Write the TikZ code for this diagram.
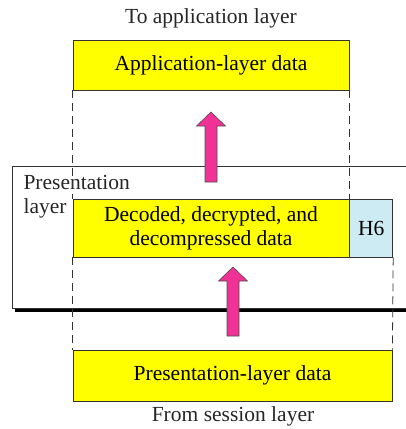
\documentclass[tikz,border=0pt]{standalone}
\usepackage{fontspec}
\setmainfont{Liberation Serif}
\usepackage{tikz}
\usetikzlibrary{positioning}
\definecolor{boxyellow}{RGB}{255,255,0}
\definecolor{headerblue}{RGB}{205,235,243}
\definecolor{arrowpink}{RGB}{240,50,150}
\tikzset{
    databox/.style={draw=black!80, line width=0.8pt, fill=boxyellow, inner sep=0pt,
        font=\fontsize{21.5}{24}\selectfont, align=center},
    headerbox/.style={databox, fill=headerblue},
    guide/.style={black!80, line width=0.8pt, dash pattern=on 8pt off 5pt},
    caption/.style={font=\fontsize{21.5}{24}\selectfont, text=black!85},
    liftarrow/.style={draw=black!70, line width=0.6pt, fill=arrowpink}
}
% block arrow pointing up: x, tip y, bottom y (y grows downwards)
\def\liftarrow#1#2#3{%
    \draw[liftarrow] (#1-6,#3) -- (#1-6,#2+14) -- (#1-14.5,#2+14) -- (#1,#2)
        -- (#1+14.5,#2+14) -- (#1+6,#2+14) -- (#1+6,#3) -- cycle;
}
\begin{document}
\begin{tikzpicture}[x=1pt, y=-1pt]
    \useasboundingbox (0,0) rectangle (406,429);

    % presentation layer frame
    \draw[black!80, line width=0.8pt] (406,166) -- (12,166) -- (12,308) -- (406,308);
    \draw[black, line width=3pt] (15,310) -- (406,310);
    \node[caption, align=left, anchor=base west] (layername) at (20,213)
        {Presentation\\layer};

    % data units
    \node[databox, minimum width=276pt, minimum height=50pt] (app) at (211,65)
        {Application-layer data};
    \node[databox, minimum width=276pt, minimum height=58pt] (dec) at (211,228)
        {Decoded, decrypted, and\\decompressed data};
    \node[headerbox, minimum width=43pt, minimum height=58pt, right=0pt of dec] (h6)
        {H6};
    \node[databox, minimum width=319pt, minimum height=51pt] (pres) at (232.5,375.5)
        {Presentation-layer data};

    \node[caption] (toapp) at (211,18) {To application layer};
    \node[caption] (fromsess) at (233,416) {From session layer};

    % dashed guides
    \draw[guide] (app.south west) -- (dec.north west);
    \draw[guide] (app.south east) -- (h6.north west);
    \draw[guide] (dec.south west) -- (pres.north west);
    \draw[guide] (h6.south east) -- (pres.north east);

    % flow
    \liftarrow{211}{112}{182}
    \liftarrow{233}{267}{336}
\end{tikzpicture}
\end{document}
